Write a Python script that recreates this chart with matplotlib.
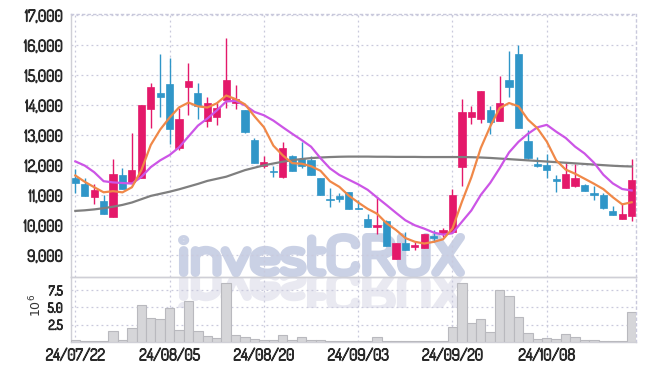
import matplotlib
matplotlib.use("Agg")
import matplotlib.pyplot as plt
import matplotlib.patheffects as pe
import numpy as np
from matplotlib.textpath import TextPath
from matplotlib.patches import PathPatch, Rectangle
from matplotlib.font_manager import FontProperties
from matplotlib.transforms import Affine2D, IdentityTransform

# ---------------- data ----------------
dates = ["24/07/22", "24/07/23", "24/07/24", "24/07/25", "24/07/26", "24/07/29", "24/07/30", "24/07/31",
         "24/08/01", "24/08/02", "24/08/05", "24/08/06", "24/08/07", "24/08/08", "24/08/09", "24/08/12",
         "24/08/13", "24/08/14", "24/08/16", "24/08/19", "24/08/20", "24/08/21", "24/08/22", "24/08/23",
         "24/08/26", "24/08/27", "24/08/28", "24/08/29", "24/08/30", "24/09/02", "24/09/03", "24/09/04",
         "24/09/05", "24/09/06", "24/09/09", "24/09/10", "24/09/11", "24/09/12", "24/09/13", "24/09/19",
         "24/09/20", "24/09/23", "24/09/24", "24/09/25", "24/09/26", "24/09/27", "24/09/30", "24/10/02",
         "24/10/04", "24/10/07", "24/10/08", "24/10/10", "24/10/11", "24/10/14", "24/10/15", "24/10/16",
         "24/10/17", "24/10/18", "24/10/21", "24/10/22"]

opens = [11570, 11370, 10950, 10800, 10280, 11670, 11450, 11580, 13850, 14400,
         14700, 12580, 14610, 14400, 13480, 13610, 14150, 14050, 13830, 12830,
         11960, 11790, 11610, 12300, 12200, 12170, 11570, 10860, 10970, 11090,
         10560, 10200, 9950, 10120, 8880, 9400, 9280, 9250, 9610, 9700,
         9780, 11920, 13610, 13520, 13830, 13450, 14830, 15700, 12800, 12020,
         12000, 11520, 11250, 11300, 11320, 11070, 11000, 10470, 10190, 10310]
highs = [11880, 11560, 11360, 10990, 12190, 11890, 13060, 14000, 14720, 15700,
         15560, 13890, 15390, 14730, 14260, 14060, 16220, 14650, 13830, 12910,
         12290, 11970, 12780, 12320, 12750, 12310, 11580, 11250, 11070, 11090,
         10830, 10370, 10950, 10170, 9400, 9780, 9450, 9700, 9830, 9890,
         11200, 14190, 13970, 14470, 13970, 14950, 15800, 16000, 13170, 12260,
         12360, 11670, 12110, 12020, 11380, 11300, 11080, 10630, 10750, 12190]
lows = [11080, 10980, 10690, 10380, 10260, 11210, 11450, 11580, 13220, 13610,
        12700, 12500, 13660, 13520, 13280, 13330, 13890, 13870, 13060, 12080,
        11900, 11590, 11560, 11810, 11890, 11680, 11000, 10610, 10780, 10520,
        10520, 9950, 9700, 9300, 8880, 9180, 9170, 9250, 9450, 9610,
        9780, 11300, 13360, 13410, 13030, 13450, 14260, 13230, 12190, 11950,
        11560, 11110, 11250, 11260, 11150, 10830, 10520, 10320, 10190, 10130]
closes = [11410, 10980, 11170, 10380, 11700, 11210, 11830, 14000, 14600, 14270,
          13200, 13530, 14800, 13980, 14070, 13900, 14830, 14200, 13100, 12080,
          12090, 11760, 12570, 11810, 11980, 11680, 11000, 10820, 10880, 10520,
          10530, 9950, 10000, 9300, 9400, 9180, 9330, 9700, 9580, 9830,
          10990, 13770, 13770, 14470, 13420, 14060, 14610, 13230, 12250, 11980,
          11830, 11480, 11700, 11560, 11150, 10990, 10580, 10350, 10370, 11500]
volumes_m = [0.27, 0.08, 0.08, 0.08, 1.59, 0.27, 2.0, 5.4, 3.47, 3.32,
             4.93, 1.73, 5.95, 1.59, 0.86, 0.55, 8.6, 1.03, 0.68, 0.42,
             0.22, 0.22, 1.0, 0.3, 0.68, 0.3, 0.22, 0.12, 0.07, 0.07,
             0.1, 0.1, 0.68, 0.17, 0.06, 0.06, 0.06, 0.06, 0.06, 0.06,
             2.15, 8.6, 2.74, 3.32, 1.4, 7.5, 6.6, 3.6, 1.25, 0.38,
             0.5, 0.38, 1.1, 0.65, 0.25, 0.2, 0.06, 0.05, 0.05, 4.37]
# moving-average values before enough in-window closes exist
ma5_head = [11650, 11440, 11260, 11090]
ma10_head = [12120, 11980, 11760, 11460, 11420, 11400, 11380, 11600, 11930]
ma_long = [10470, 10490, 10520, 10560, 10610, 10670, 10750, 10860, 10970, 11040,
           11110, 11190, 11280, 11370, 11470, 11540, 11610, 11720, 11830, 11910,
           11990, 12050, 12110, 12160, 12200, 12230, 12250, 12265, 12275, 12280,
           12280, 12280, 12275, 12275, 12270, 12270, 12270, 12265, 12265, 12265,
           12265, 12265, 12260, 12250, 12235, 12215, 12195, 12175, 12155, 12135,
           12115, 12095, 12075, 12055, 12035, 12015, 11995, 11975, 11960, 11950]
price_ticks = [9000, 10000, 11000, 12000, 13000, 14000, 15000, 16000, 17000]
vol_ticks = [2.5, 5.0, 7.5]
date_ticks = ["24/07/22", "24/08/05", "24/08/20", "24/09/03", "24/09/20", "24/10/08"]

# ---------------- derived ----------------
o = np.array(opens, float); h = np.array(highs, float)
l = np.array(lows, float); c = np.array(closes, float)
v = np.array(volumes_m, float) * 1e6
x = np.arange(len(c))
ma5 = np.array(ma5_head + [c[i - 4:i + 1].mean() for i in range(4, len(c))])
ma10 = np.array(ma10_head + [c[i - 9:i + 1].mean() for i in range(9, len(c))])

# ---------------- figure ----------------
W, H = 645, 371
fig = plt.figure(figsize=(W / 100, H / 100), dpi=100)

def fx(px): return px / W
def fy(py): return 1 - py / H

left, right = 71, 635.7
ax = fig.add_axes([fx(left), fy(277.3), fx(right - left), (277.3 - 14.3) / H])
axv = fig.add_axes([fx(left), fy(341.7), fx(right - left), (341.7 - 277.3) / H], sharex=ax)
ax.patch.set_alpha(0)
axv.patch.set_alpha(0)

fam = ["Dosis", "Barlow Semi Condensed", "DejaVu Sans"]
tcol = "#2a2a2a"
tick_font = dict(fontfamily=fam, fontweight="semibold", color=tcol)
bolden = [pe.withStroke(linewidth=0.9, foreground=tcol)]
red = "#e4196a"
blue = "#3096c8"
grid_c = "#c9c9dc"
dotted = (0, (1.5, 2.5))

up = c >= o
col = np.where(up, red, blue)
body_b = np.minimum(o, c)
body_h = np.maximum(np.abs(c - o), 40)

ax.vlines(x, l, h, colors=col, linewidth=1.0, zorder=3)
ax.bar(x, body_h, bottom=body_b, width=0.76, color=col, edgecolor=col, linewidth=0.5, zorder=4)

ax.plot(x, ma_long, color="#7f7f7f", lw=1.6, zorder=5)
ax.plot(x, ma10, color="#cc55e6", lw=1.6, zorder=5)
ax.plot(x, ma5, color="#f08848", lw=1.6, zorder=5)

ax.set_ylim(8257, 17023)
ax.set_xlim(-0.46, 59.43)
ax.set_yticks(price_ticks)
ax.set_yticklabels([f"{t:,}" for t in price_ticks], fontsize=11.5, **tick_font)

tick_pos = [dates.index(d) for d in date_ticks]
for a in (ax, axv):
    a.set_xticks(tick_pos)
    a.grid(True, color=grid_c, linestyle=dotted, linewidth=0.9)
    a.set_axisbelow(True)
    a.tick_params(length=0)
    for s in a.spines.values():
        s.set_color("#cfcfd6")
        s.set_linewidth(1.0)
    a.spines["right"].set_linestyle(dotted)
    a.spines["right"].set_color(grid_c)
ax.tick_params(axis="x", labelbottom=False)
ax.tick_params(axis="y", pad=6)
ax.spines["top"].set_linestyle(dotted)
ax.spines["top"].set_color(grid_c)

axv.bar(x, v, width=1.0, color="#d6d6d9", edgecolor="#b9b9be", linewidth=0.8, zorder=3)
axv.set_ylim(0, 9.4e6)
axv.set_yticks([t * 1e6 for t in vol_ticks])
axv.set_yticklabels([f"{t:.1f}" for t in vol_ticks], fontsize=9.5, **tick_font)
axv.set_xticklabels(date_ticks, fontsize=11.5, **tick_font)
axv.tick_params(axis="x", pad=4)
axv.tick_params(axis="y", pad=6)
for lab in ax.get_yticklabels() + axv.get_yticklabels() + axv.get_xticklabels():
    lab.set_path_effects(bolden)
fig.text(fx(36), fy(305), r"$10^6$", rotation=90, ha="center", va="center", fontsize=9, color="#333333")

# ---------------- watermark (behind the plot content) ----------------
fp = FontProperties(family=["Dosis", "DejaVu Sans"], weight="heavy")
tp = TextPath((0, 0), "investCRUX", size=1, prop=fp)
bb = tp.get_extents()
sw = 5.0  # stroke width in points, thickens the thin glyphs
half = sw * 100 / 72 / 2
x0, x1, base, top = 178 + half, 465 - half, 277 - half, 233 + half
sx = (x1 - x0) / bb.width
sy = (base - top) / bb.y1
main_tr = Affine2D().translate(-bb.x0, 0).scale(sx, sy).translate(x0, H - base)
refl_tr = Affine2D().translate(-bb.x0, 0).scale(sx, -sy).translate(x0, H - base)
wm = "#cad1e5"
p1 = PathPatch(main_tr.transform_path(tp), facecolor=wm, edgecolor=wm, linewidth=sw,
               joinstyle="round", transform=IdentityTransform(), zorder=-1)
wr = "#e9e9f1"
p2 = PathPatch(refl_tr.transform_path(tp), facecolor=wr, edgecolor=wr, linewidth=sw,
               joinstyle="round", transform=IdentityTransform(), zorder=-2)
fig.add_artist(p2)
fig.add_artist(p1)
clip = Rectangle((0, H - 308), W, 31, transform=IdentityTransform())
p2.set_clip_path(clip)

fig.savefig("out.png", dpi=100)
